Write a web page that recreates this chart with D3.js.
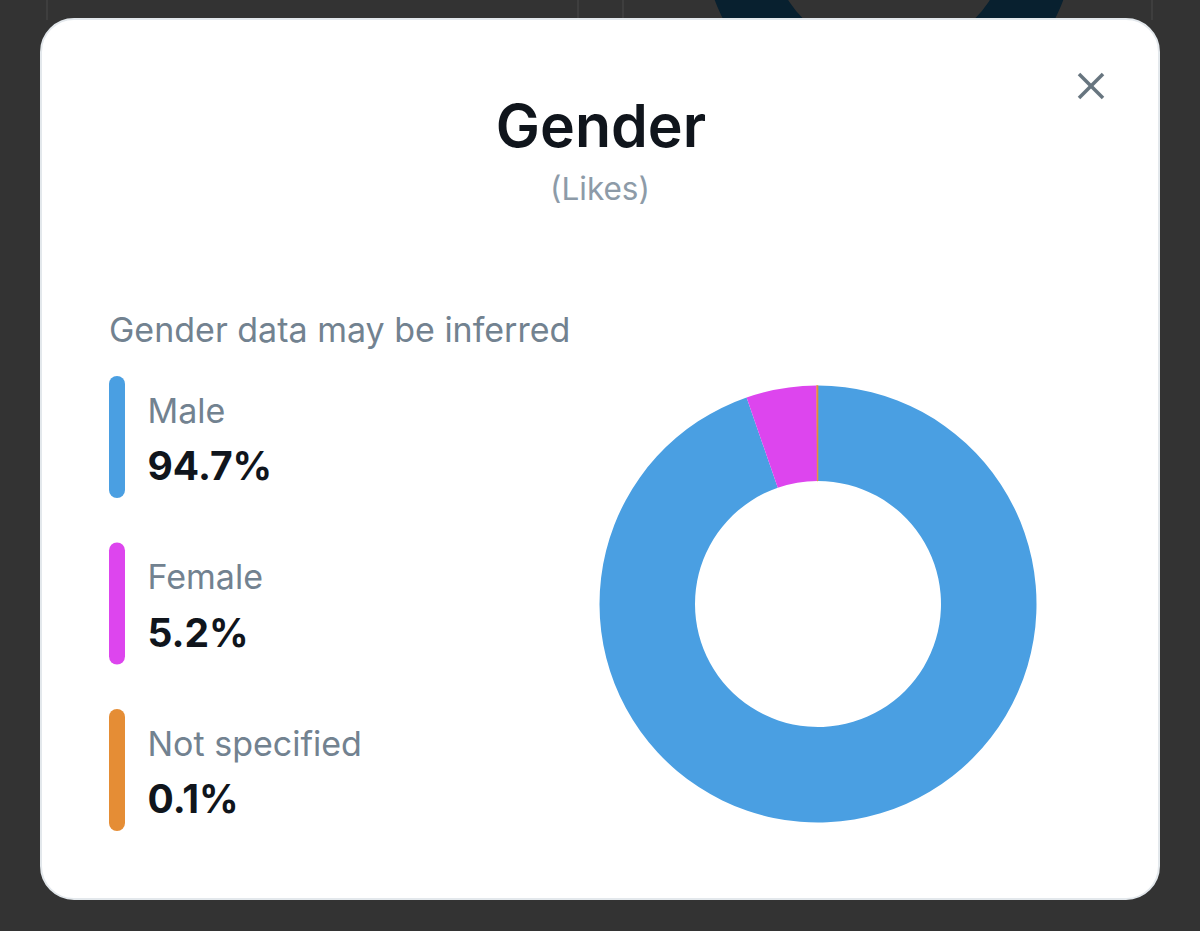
<!DOCTYPE html>
<html>
<head>
<meta charset="utf-8">
<script src="https://cdnjs.cloudflare.com/ajax/libs/d3/7.8.5/d3.min.js"></script>
<style>
html, body { margin: 0; padding: 0; background: #333333; overflow: hidden; }
text { font-family: Inter, "Noto Sans", sans-serif; }
</style>
</head>
<body>
<div id="main"></div>
<script>
const categories = ["Male", "Female", "Not specified"];
const shares = [94.7, 5.2, 0.1];
const shareLabels = ["94.7%", "5.2%", "0.1%"];
const sliceColors = ["#4a9fe2", "#dd45ee", "#e58d35"];

const ctx = {
    width : 1200,
    height : 931,
    pageGrey : "#333333",
    textDark : "#10151c",
    textGrey : "#728290",
    lineGrey : "#434343",
    navy : "#08202f"
};

function createViz(){
    let svg = d3.select("#main").append("svg")
        .attr("width", ctx.width)
        .attr("height", ctx.height)
        .style("display", "block");

    drawBackdrop(svg);
    drawCard(svg);
    drawLegend(svg);
    drawDonut(svg);
}

// the page that sits behind the dialog
function drawBackdrop(svg){
    svg.append("rect")
        .attr("width", ctx.width)
        .attr("height", ctx.height)
        .attr("fill", ctx.pageGrey);
    [47, 578, 623, 1152].forEach(x => {
        svg.append("line")
            .attr("x1", x).attr("x2", x)
            .attr("y1", 0).attr("y2", 20)
            .attr("stroke", ctx.lineGrey)
            .attr("stroke-width", 1.5);
    });
    svg.append("path")
        .attr("transform", "translate(889,-65)")
        .attr("d", d3.arc()({innerRadius: 120, outerRadius: 186, startAngle: 0, endAngle: 2 * Math.PI}))
        .attr("fill", ctx.navy);
}

function drawCard(svg){
    svg.append("rect")
        .attr("x", 41)
        .attr("y", 19)
        .attr("width", 1118)
        .attr("height", 880)
        .attr("rx", 33)
        .attr("fill", "white")
        .attr("stroke", "#e3e8ec")
        .attr("stroke-width", 2);

    svg.append("text")
        .attr("x", 601)
        .attr("y", 147)
        .attr("text-anchor", "middle")
        .attr("font-size", "59px")
        .attr("font-weight", 600)
        .attr("fill", ctx.textDark)
        .text("Gender");
    svg.append("text")
        .attr("x", 600)
        .attr("y", 200)
        .attr("text-anchor", "middle")
        .attr("font-size", "31.5px")
        .attr("fill", "#8d9ba8")
        .text("(Likes)");
    svg.append("text")
        .attr("x", 109)
        .attr("y", 342)
        .attr("font-size", "34px")
        .attr("fill", ctx.textGrey)
        .text("Gender data may be inferred");

    // close button
    let close = svg.append("g").attr("stroke", "#67757f").attr("stroke-width", 3.6);
    close.append("line").attr("x1", 1079).attr("y1", 74).attr("x2", 1103).attr("y2", 98);
    close.append("line").attr("x1", 1103).attr("y1", 74).attr("x2", 1079).attr("y2", 98);
}

function drawLegend(svg){
    let rowScale = d3.scalePoint()
        .domain(categories)
        .range([376, 709]);

    let rows = svg.append("g").selectAll("g")
        .data(categories)
        .enter()
        .append("g")
        .attr("transform", d => "translate(109," + rowScale(d) + ")");

    rows.append("rect")
        .attr("width", 16)
        .attr("height", 122)
        .attr("rx", 8)
        .attr("fill", (d, i) => sliceColors[i]);
    rows.append("text")
        .attr("x", 38.5)
        .attr("y", 46.5)
        .attr("font-size", "34px")
        .attr("fill", ctx.textGrey)
        .text(d => d);
    rows.append("text")
        .attr("x", 38.5)
        .attr("y", 104)
        .attr("font-size", "39px")
        .attr("font-weight", 700)
        .attr("fill", ctx.textDark)
        .text((d, i) => shareLabels[i]);
}

function drawDonut(svg){
    let pie = d3.pie().sort(null).value(d => d);
    let arc = d3.arc().innerRadius(123).outerRadius(218.5);

    // thin stroke so the 0.1% slice stays visible, as in the original
    svg.append("g")
        .attr("transform", "translate(818,604)")
        .selectAll("path")
        .data(pie(shares))
        .enter()
        .append("path")
        .attr("d", arc)
        .attr("fill", (d, i) => sliceColors[i])
        .attr("stroke", (d, i) => i === 2 ? sliceColors[i] : "none")
        .attr("stroke-width", 0.6);
}

createViz();
</script>
</body>
</html>
